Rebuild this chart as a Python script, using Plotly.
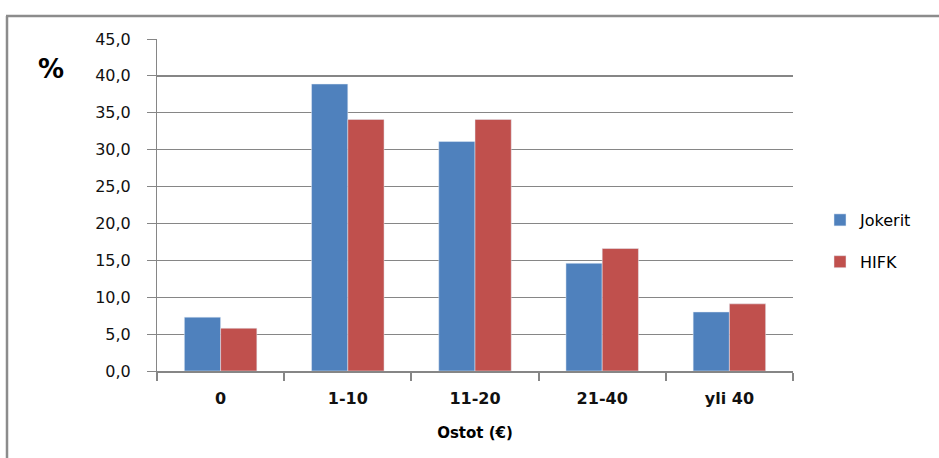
import plotly.graph_objects as go

# Purchase amount brackets (euros) and share of respondents (%)
categories = ["0", "1-10", "11-20", "21-40", "yli 40"]
jokerit = [7.3, 38.9, 31.1, 14.6, 8.0]
hifk = [5.8, 34.1, 34.1, 16.6, 9.1]
y_ticks = [0, 5, 10, 15, 20, 25, 30, 35, 40, 45]

blue = "#4F81BD"
red = "#C0504D"
grid = "#868686"
font_family = "DejaVu Sans"

fig = go.Figure()
fig.add_trace(go.Bar(name="Jokerit", x=categories, y=jokerit, marker_color=blue,
                     legendgroup="a"))
fig.add_trace(go.Bar(name="HIFK", x=categories, y=hifk, marker_color=red,
                     legendgroup="b"))

W, H = 939, 458
L, R, T, B = 157, 146, 39, 87
pw, ph = W - L - R, H - T - B

def px_x(px):
    return (px - L) / pw

def px_y(py):
    return (H - B - py) / ph

fig.update_layout(
    width=W, height=H,
    margin=dict(l=L, r=R, t=T, b=B, pad=0),
    paper_bgcolor="white", plot_bgcolor="white",
    separators=", ",
    barmode="group", bargap=0.43, bargroupgap=0,
    font=dict(family=font_family, color="#000000", size=14),
    showlegend=True,
    legend=dict(x=px_x(820), y=px_y(241), xanchor="left", yanchor="middle",
                font=dict(size=16, family=font_family), traceorder="grouped",
                tracegroupgap=18, bgcolor="rgba(0,0,0,0)", itemwidth=30),
    xaxis=dict(
        type="category", showgrid=False, showline=True, linecolor=grid, linewidth=2,
        ticks="outside", tickson="boundaries", ticklen=8, tickcolor=grid, tickwidth=2,
        ticklabelstandoff=12,
        tickfont=dict(size=16, family=font_family, weight="bold", color="#111111"),
        title=dict(text="Ostot (€)", font=dict(size=15, family=font_family, weight="bold"),
                   standoff=20),
    ),
    yaxis=dict(
        range=[0, 45], tickvals=y_ticks, tickformat=".1f",
        showgrid=True, gridcolor=grid, gridwidth=1,
        showline=True, linecolor=grid, linewidth=1,
        ticks="outside", ticklen=9, tickcolor=grid, tickwidth=1,
        ticklabelstandoff=13,
        tickfont=dict(size=16, family=font_family, color="#111111"),
        zeroline=False,
    ),
)

# Heavier gridline at 40
fig.add_shape(type="line", xref="paper", yref="y", x0=0, x1=1, y0=y_ticks[8], y1=y_ticks[8],
              line=dict(color=grid, width=2), layer="below")

# Unit label
fig.add_annotation(text="<b>%</b>", xref="paper", yref="paper", x=px_x(51), y=px_y(69),
                   xanchor="center", yanchor="middle",
                   showarrow=False, font=dict(size=26, family=font_family, color="#000000"))

# Chart frame (left and top edges)
fig.add_shape(type="line", xref="paper", yref="paper", x0=px_x(7), x1=px_x(7),
              y0=px_y(16), y1=px_y(470), line=dict(color="#8C8C8C", width=2.5))
fig.add_shape(type="line", xref="paper", yref="paper", x0=px_x(6), x1=px_x(950),
              y0=px_y(16), y1=px_y(16), line=dict(color="#8C8C8C", width=2.5))

fig.write_html("out.html")
